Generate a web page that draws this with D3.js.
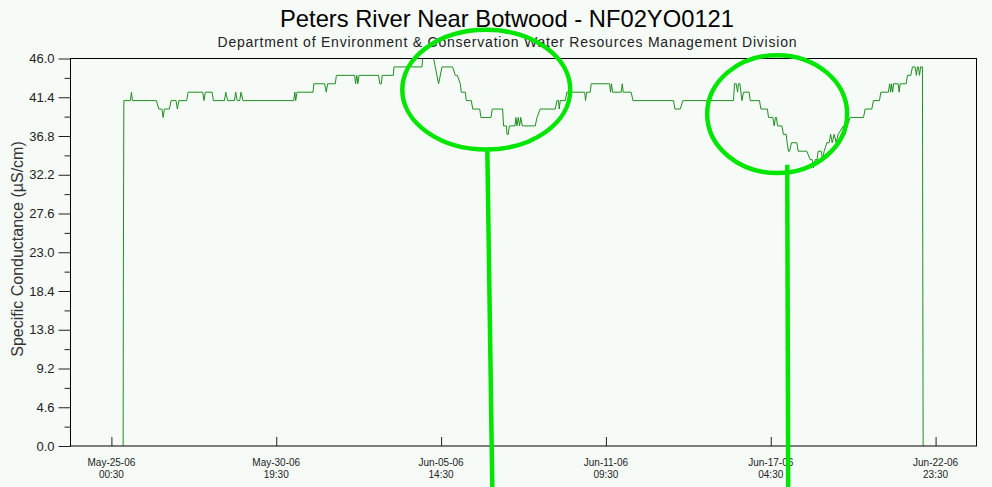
<!DOCTYPE html>
<head>
<meta charset="utf-8">
<script src="https://d3js.org/d3.v7.min.js"></script>
<style>
body { margin:0; background:#f6fbf8; }
svg { display:block; font-family:"Liberation Sans", Arial, sans-serif; }
.line { fill:none; stroke:#1f8f1f; stroke-width:1; }
.frame { fill:none; stroke:#000; stroke-width:1; }
.mark { fill:none; stroke:#00e600; stroke-width:4.5; }
.axis path { display:none; }
.axis line { stroke:#222; }
.axis text { fill:#222; font-size:13px; font-family:"Liberation Sans", Arial, sans-serif; }
</style>
</head>
<body>
<script>
var title = "Peters River Near Botwood - NF02YO0121";
var subtitle = "Department of Environment & Conservation Water Resources Management Division";
var yTitle = "Specific Conductance (µS/cm)";

// hours after May-25-06 00:30
var hours = [9.9,10.1,10.5,16.0,16.9,17.7,37.9,40.0,42.6,43.6,44.7,48.9,50.3,54.5,55.6,56.9,63.5,64.7,
  77.0,78.1,79.2,84.9,86.0,95.3,96.4,98.0,103.7,104.8,106.0,108.2,109.3,111.0,153.7,154.7,155.4,156.5,
  170.0,170.7,179.8,181.2,182.3,188.8,189.7,205.1,205.9,206.9,207.8,208.8,225.3,226.3,227.6,228.4,
  237.7,238.3,261.9,262.4,271.7,275.9,278.8,287.7,290.0,291.7,294.2,295.0,298.4,299.3,303.5,304.7,
  310.6,311.6,320.1,321.2,329.9,330.7,333.0,333.6,334.7,335.5,340.3,341.1,342.0,343.1,344.2,345.2,
  346.5,357.4,358.9,361.6,374.3,375.7,377.1,377.6,378.5,382.7,384.1,399.1,399.8,400.7,403.8,404.6,
  420.1,420.9,421.7,422.6,429.9,430.8,431.6,438.3,439.8,474.0,475.2,479.6,481.9,524.6,525.4,526.9,
  528.0,528.8,530.0,531.7,533.0,537.8,538.7,546.5,547.7,553.2,554.1,557.8,558.9,560.0,560.8,561.7,
  565.4,566.7,569.0,569.8,570.9,571.8,573.5,578.0,579.1,586.4,589.2,590.9,592.0,593.5,595.1,596.0,
  598.5,599.8,601.0,603.3,605.2,606.5,607.8,609.5,611.2,612.8,617.3,618.7,620.4,623.0,634.2,635.6,
  641.2,642.6,647.7,648.8,655.2,656.3,657.1,657.9,658.8,659.6,663.4,664.3,665.1,670.2,671.3,674.1,
  675.5,677.7,678.8,679.7,680.5,681.4,682.4,683.9,684.2,684.5];
// specific conductance, uS/cm
var values = [0,21.6,41,41,42,41,41,40,40,39,40,40,41,41,40,41,41,42,
  42,41,42,42,41,41,42,41,41,42,41,41,42,41,41,42,41,42,
  42,43,43,42,43,43,44,44,43,44,43,44,44,43,43,44,
  44,45,45,46,46,43,45,45,44,44,43,42,42,41,41,40,
  40,39,39,40,40,38,38,37,37,38,38,39,38,39,38,39,
  38,38,39,40,40,41,41,40,41,41,42,42,41,42,42,43,
  43,42,43,42,42,43,42,42,41,41,40,40,41,41,43,43,
  42,43,43,41,42,42,41,41,40,40,39,39,38,39,39,38,
  38,37,37,36,35,35,36,36,35,35,34,34,33,34,34,35,
  35,34,35,36,36,37,36,37,36,37,38,37,38,39,39,40,
  40,41,41,42,42,43,42,43,42,43,43,42,43,43,44,44,
  45,45,44,45,45,44,45,45,22.5,0];

var xTickHours = [0,139,278,417,556,695];
var xTickDates = ["May-25-06","May-30-06","Jun-05-06","Jun-11-06","Jun-17-06","Jun-22-06"];
var xTickTimes = ["00:30","19:30","14:30","09:30","04:30","23:30"];
var yTicks = [0,4.6,9.2,13.8,18.4,23.0,27.6,32.2,36.8,41.4,46.0];
var yMinor = [2.3,6.9,11.5,16.1,20.7,25.3,29.9,34.5,39.1,43.7];

// hand-drawn highlights: centre (hours, value), radii (hours, value)
var rings = [[316.1,42.3,70.8,7.1],[561.4,39.4,59.0,7.0]];
var pointers = [[317.0,35.1,321.2,-4.9],[569.9,33.4,570.7,-4.9]];

var t0 = new Date(2006,4,25,0,30);
function at(h) { return new Date(+t0 + h*36e5); }

var data = hours.map(function(h,i){ return {t: at(h), v: values[i]}; });

var W = 992, H = 487;
var svg = d3.select("body").append("svg").attr("width",W).attr("height",H);

var x = d3.scaleTime().domain([at(-34.5), at(729.5)]).range([70.5, 976.5]);
var y = d3.scaleLinear().domain([0,46]).range([446, 58.5]);

svg.append("text").attr("x",507).attr("y",27).attr("text-anchor","middle")
  .attr("textLength",454).attr("lengthAdjust","spacingAndGlyphs")
  .style("font-size","24px").style("fill","#000").text(title);
svg.append("text").attr("x",507).attr("y",47).attr("text-anchor","middle")
  .attr("textLength",579).attr("lengthAdjust","spacing")
  .style("font-size","14px").style("fill","#222").text(subtitle);

svg.append("text").attr("transform","translate(23,249) rotate(-90)")
  .attr("text-anchor","middle").style("font-size","16px").style("fill","#333").text(yTitle);

// y axis
svg.append("g").attr("class","axis").attr("transform","translate(70.5,0)")
  .call(d3.axisLeft(y).tickValues(yTicks).tickFormat(d3.format(".1f")).tickSize(12).tickPadding(4));
svg.append("g").attr("class","axis").attr("transform","translate(70.5,0)")
  .call(d3.axisLeft(y).tickValues(yMinor).tickFormat("").tickSize(6));

// x axis: ticks point up into plot
svg.append("g").attr("class","axis").attr("transform","translate(0,446)")
  .call(d3.axisBottom(x).tickValues(xTickHours.map(at)).tickFormat("").tickSize(-9));

var lab = svg.append("g").selectAll("text").data(xTickHours).enter().append("text")
  .attr("text-anchor","middle").style("font-size","10px").style("fill","#222");
lab.append("tspan").attr("y",466).attr("x", function(d){ return x(at(d)); })
  .text(function(d,i){ return xTickDates[i]; });
lab.append("tspan").attr("y",478).attr("x", function(d){ return x(at(d)); })
  .text(function(d,i){ return xTickTimes[i]; });

svg.append("path").datum(data).attr("class","line")
  .attr("d", d3.line().x(function(d){ return x(d.t); }).y(function(d){ return y(d.v); }));

svg.append("rect").attr("class","frame")
  .attr("x",70.5).attr("y",58.5).attr("width",906).attr("height",446-58.5);

svg.selectAll(".ring").data(rings).enter().append("ellipse").attr("class","mark")
  .attr("cx", function(d){ return x(at(d[0])); })
  .attr("cy", function(d){ return y(d[1]); })
  .attr("rx", function(d){ return x(at(d[0]+d[2])) - x(at(d[0])); })
  .attr("ry", function(d){ return y(0) - y(d[3]); });
svg.selectAll(".ptr").data(pointers).enter().append("line").attr("class","mark")
  .attr("x1", function(d){ return x(at(d[0])); })
  .attr("y1", function(d){ return y(d[1]); })
  .attr("x2", function(d){ return x(at(d[2])); })
  .attr("y2", function(d){ return y(d[3]); });
</script>
</body>
